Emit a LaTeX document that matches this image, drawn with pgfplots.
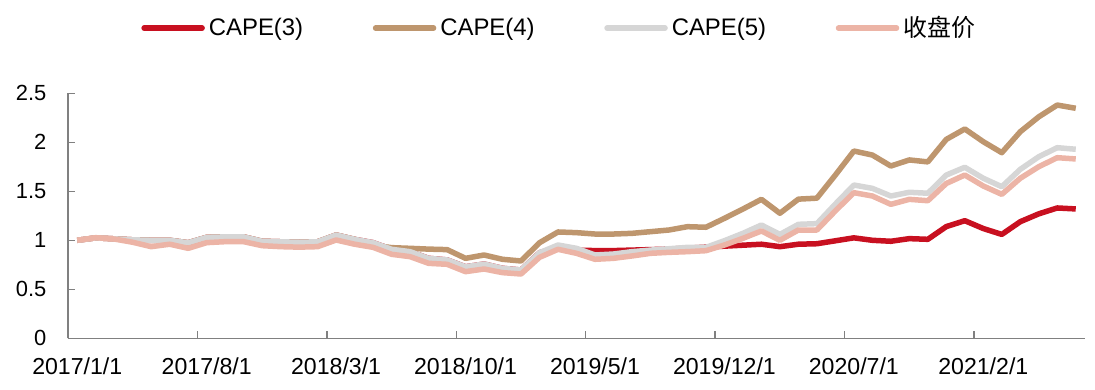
\documentclass[border=0pt]{standalone}
\usepackage{fontspec}
\setmainfont{Liberation Sans}
\newfontfamily\cjk{Noto Sans CJK SC}
\usepackage{pgfplots}
\pgfplotsset{compat=1.18}
\usepackage{pgfplotstable}
\definecolor{cthree}{RGB}{200,16,32}
\definecolor{cfour}{RGB}{190,150,110}
\definecolor{cfive}{RGB}{214,214,214}
\definecolor{cprice}{RGB}{236,180,166}
\definecolor{axgray}{RGB}{128,128,128}

\pgfplotstableread{
i c3 c4 c5 cp
0 1.000 1.000 1.000 1.000
1 1.025 1.025 1.025 1.027
2 1.015 1.015 1.015 1.013
3 1.005 1.005 1.005 0.980
4 1.000 1.000 1.000 0.935
5 1.000 1.000 1.000 0.960
6 0.975 0.975 0.975 0.918
7 1.030 1.030 1.030 0.976
8 1.035 1.035 1.035 0.986
9 1.035 1.035 1.035 0.986
10 0.990 0.990 0.990 0.945
11 0.985 0.985 0.985 0.935
12 0.980 0.980 0.980 0.930
13 0.985 0.985 0.985 0.935
14 1.054 1.054 1.054 1.003
15 1.010 1.010 1.010 0.960
16 0.976 0.950 0.976 0.928
17 0.908 0.925 0.908 0.857
18 0.884 0.918 0.884 0.833
19 0.816 0.910 0.816 0.765
20 0.800 0.905 0.800 0.755
21 0.730 0.816 0.730 0.680
22 0.758 0.850 0.758 0.707
23 0.714 0.806 0.714 0.670
24 0.697 0.789 0.697 0.656
25 0.873 0.975 0.873 0.826
26 0.930 1.085 0.952 0.908
27 0.900 1.078 0.918 0.867
28 0.895 1.064 0.850 0.806
29 0.895 1.064 0.860 0.816
30 0.900 1.071 0.884 0.840
31 0.905 1.088 0.900 0.867
32 0.910 1.105 0.914 0.877
33 0.920 1.139 0.928 0.884
34 0.930 1.133 0.928 0.894
35 0.940 1.224 0.996 0.952
36 0.950 1.319 1.071 1.020
37 0.960 1.418 1.156 1.095
38 0.935 1.276 1.060 1.000
39 0.960 1.420 1.163 1.105
40 0.965 1.430 1.170 1.105
41 0.995 1.666 1.370 1.300
42 1.025 1.911 1.564 1.486
43 1.000 1.870 1.530 1.452
44 0.990 1.758 1.452 1.367
45 1.017 1.820 1.490 1.418
46 1.010 1.800 1.480 1.404
47 1.140 2.030 1.666 1.580
48 1.200 2.136 1.745 1.666
49 1.120 2.006 1.633 1.554
50 1.060 1.894 1.547 1.469
51 1.190 2.108 1.724 1.633
52 1.270 2.260 1.853 1.751
53 1.330 2.380 1.945 1.843
54 1.320 2.347 1.929 1.830
}\data

\begin{document}
\begin{tikzpicture}
\begin{axis}[
  scale only axis,
  width=508.5bp, height=122.5bp,
  xmin=-0.5, xmax=54.5, ymin=0, ymax=2.5,
  axis x line=bottom, axis y line=left,
  axis line style={draw=axgray, line width=0.7bp, -},
  tick align=inside,
  major tick length=3.5bp,
  tick style={draw=axgray, line width=0.7bp},
  ytick={0,0.5,1,1.5,2,2.5},
  yticklabels={0,0.5,1,1.5,2,2.5},
  xtick={-0.5,6.5,13.5,20.5,27.5,34.5,41.5,48.5},
  xticklabels={},
  extra x ticks={0,7,14,21,28,35,42,49},
  extra x tick labels={2017/1/1,2017/8/1,2018/3/1,2018/10/1,2019/5/1,2019/12/1,2020/7/1,2021/2/1},
  extra x tick style={major tick length=0pt},
  tick label style={font=\fontsize{11}{13}\selectfont},
  /pgf/number format/assume math mode=true,
  yticklabel style={xshift=-7.3bp},
  xticklabel style={yshift=-6bp, font=\fontsize{11.6}{13}\selectfont},
  legend style={at={(0.488,1.266)}, anchor=center, draw=none, fill=none,
    legend columns=4, font=\fontsize{12}{14}\selectfont,
    /tikz/every even column/.append style={column sep=0bp}},
  legend image code/.code={\draw[#1, line width=2.75bp, line cap=round] (0bp,0bp) -- (29bp,0bp);},
  every axis plot/.append style={line width=2.75bp, line join=round},
]
\coordinate (sw) at (rel axis cs:0,0);
\addplot[cthree, no markers] table[x=i, y=c3] {\data};
\addlegendentry{\makebox[80bp][l]{CAPE(3)}}
\addplot[cfour, no markers] table[x=i, y=c4] {\data};
\addlegendentry{\makebox[80bp][l]{CAPE(4)}}
\addplot[cfive, no markers] table[x=i, y=c5] {\data};
\addlegendentry{\makebox[80bp][l]{CAPE(5)}}
\addplot[cprice, no markers] table[x=i, y=cp] {\data};
\addlegendentry{\makebox[40bp][l]{\cjk 收盘价}}
\end{axis}
\pgfresetboundingbox
\path[use as bounding box] (sw) ++(-34bp,-25.85bp) rectangle ++(547.5bp,195bp);
\end{tikzpicture}
\end{document}
